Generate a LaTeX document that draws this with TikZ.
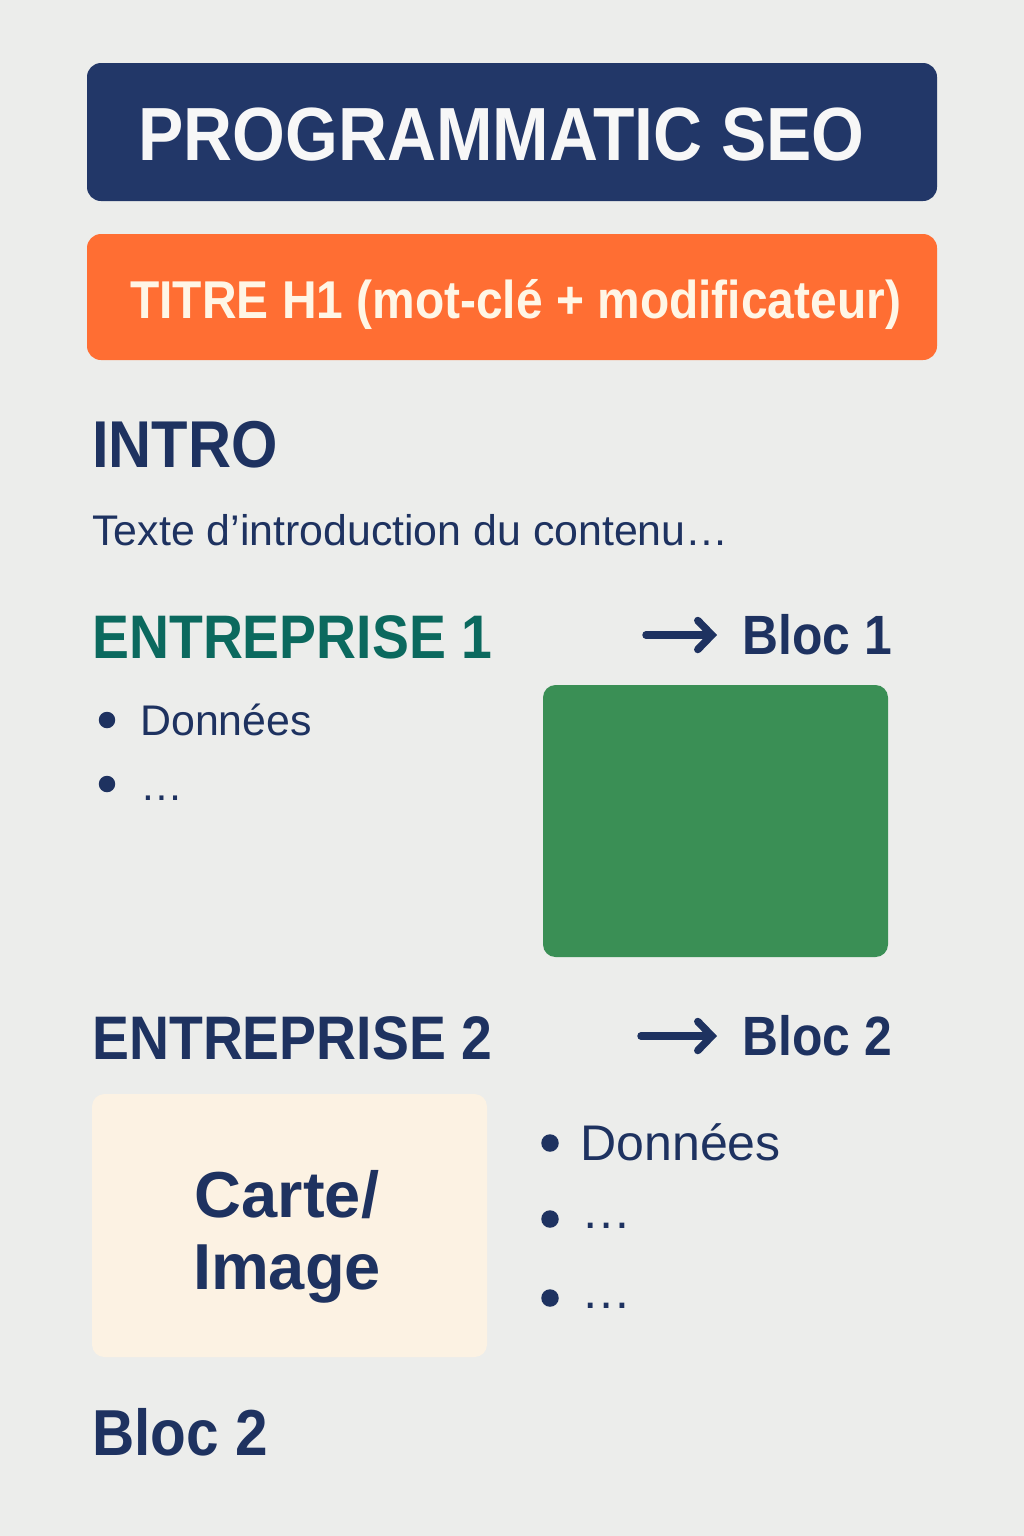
\documentclass[tikz,border=0pt]{standalone}
\usepackage{fontspec}
\usepackage{tikz}
\usetikzlibrary{positioning, arrows.meta}
\setmainfont{Liberation Sans}[FakeStretch=0.9]
\newfontfamily\plainfont{Liberation Sans}
\definecolor{bgray}{RGB}{236,237,235}
\definecolor{navy}{RGB}{34,55,104}
\definecolor{inknavy}{RGB}{30,50,96}
\definecolor{orng}{RGB}{255,110,51}
\definecolor{cream}{RGB}{255,246,230}
\definecolor{teal}{RGB}{11,105,94}
\definecolor{leaf}{RGB}{58,143,85}
\definecolor{paper}{RGB}{252,242,227}
\newcommand{\fs}[1]{\fontsize{#1}{#1}\selectfont}

\begin{document}
\begin{tikzpicture}[x=0.02cm,y=-0.02cm]
	\tikzset{
		band/.style={rounded corners=0.28cm},
		head/.style={anchor=base west, inner sep=0pt, text=inknavy, font=\bfseries\fs{35pt}},
		body/.style={anchor=base west, inner sep=0pt, text=inknavy, font=\plainfont\fs{24.4pt}},
		dot/.style={circle, fill=inknavy, inner sep=0pt, minimum size=0.33cm},
		goto/.style={draw=inknavy, line width=0.15cm, line cap=round, -{Straight Barb[length=0.28cm, width=0.58cm, line cap=round]}}
	}
	% page
	\fill[bgray] (0,0) rectangle (1024,1536);
	\useasboundingbox (0,0) rectangle (1024,1536);
	
	% header bands
	\fill[navy, band] (87,63) rectangle (937,201);
	\node[anchor=base west, inner sep=0pt, text=white!94!gray, font=\bfseries\fs{42.9pt}] (title) at (138,160) {PROGRAMMATIC SEO};
	\fill[orng, band] (87,234) rectangle (937,360);
	\node[anchor=base west, inner sep=0pt, text=cream, font=\bfseries\fs{30.3pt}] (h1) at (130,318) {TITRE H1 (mot-clé + modificateur)};
	
	% intro
	\node[head, font=\bfseries\fs{37.7pt}] (intro) at (92,467) {INTRO};
	\node[body] (introtxt) at (92,545) {Texte d’introduction du contenu…};
	
	% entreprise 1
	\node[head, text=teal] (ent1) at (92,658) {ENTREPRISE 1};
	\coordinate (a1s) at (646,635);
	\coordinate (a1e) at (717,635);
	\draw[goto] (a1s) -- (a1e);
	\node[right=0.5cm of a1e, inner sep=0pt, text=inknavy, font=\bfseries\fs{31.5pt}] (bloc1) {Bloc 1};
	\node[dot] (d11) at (107,720) {};
	\node[body] (don1) at (140,735) {Données};
	\node[dot] (d12) at (107,784) {};
	\node[body] (etc1) at (140,800) {…};
	\fill[leaf, rounded corners=0.25cm] (543,685) rectangle (888,957);
	
	% entreprise 2
	\node[head] (ent2) at (92,1059) {ENTREPRISE 2};
	\coordinate (a2s) at (641,1036);
	\coordinate (a2e) at (717,1036);
	\draw[goto] (a2s) -- (a2e);
	\node[right=0.5cm of a2e, inner sep=0pt, text=inknavy, font=\bfseries\fs{31.5pt}] (bloc2) {Bloc 2};
	\fill[paper, rounded corners=0.25cm] (92,1094) rectangle (487,1357);
	\node[align=center, text=inknavy, font=\plainfont\bfseries\fontsize{37pt}{41pt}\selectfont] (carte) at (287,1237) {Carte/\\Image};
	\node[dot, minimum size=0.35cm] (d21) at (550,1143) {};
	\node[body, font=\plainfont\fs{28.5pt}] (don2) at (580,1160) {Données};
	\node[dot, minimum size=0.35cm] (d22) at (550,1219) {};
	\node[body, font=\plainfont\fs{28.5pt}] (etc2) at (581,1228) {…};
	\node[dot, minimum size=0.35cm] (d23) at (550,1298) {};
	\node[body, font=\plainfont\fs{28.5pt}] (etc3) at (581,1308) {…};
	
	% closing label
	\node[head, font=\bfseries\fs{37pt}] (bloc2b) at (92,1455) {Bloc 2};
\end{tikzpicture}
\end{document}
